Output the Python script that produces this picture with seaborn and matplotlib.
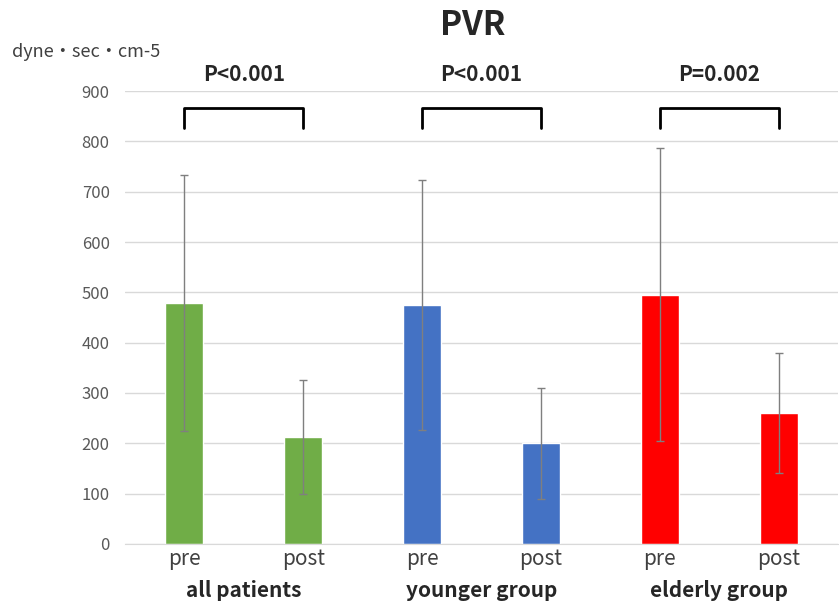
import matplotlib
matplotlib.use("Agg")
import matplotlib.pyplot as plt
import seaborn as sns
import pandas as pd

# values
groups = ["all patients", "younger group", "elderly group"]
phases = ["pre", "post"]
means = [479, 212, 475, 200, 495, 260]
sds = [255, 113, 249, 110, 291, 120]
p_labels = ["P<0.001", "P<0.001", "P=0.002"]
colors = ["#70AD47", "#4472C4", "#FF0000"]
yticks = [0, 100, 200, 300, 400, 500, 600, 700, 800, 900]

sns.set_style("white")
plt.rcParams['font.family'] = ['Noto Sans CJK JP', 'DejaVu Sans']

rows = []
for i, g in enumerate(groups):
    for j, ph in enumerate(phases):
        rows.append({"key": g + " " + ph, "group": g, "phase": ph,
                     "mean": means[i * 2 + j], "sd": sds[i * 2 + j]})
data = pd.DataFrame(rows)

fig = plt.figure(figsize=(8.39, 6.03), dpi=100)
ax = fig.add_axes([0.149, 0.098, 0.850, 0.751])

sns.barplot(data=data, x="key", y="mean", hue="group", palette=colors,
            dodge=False, width=0.32, legend=False, ax=ax, saturation=1)
ax.errorbar(range(len(data)), data["mean"], yerr=data["sd"], fmt="none",
            ecolor="#7f7f7f", elinewidth=1, capsize=3, capthick=1)

ax.set_xlim(-0.5, len(data) - 0.5)
ax.set_ylim(0, 900)
ax.set_yticks(yticks)
ax.yaxis.grid(True, color="#d9d9d9", linewidth=1)
ax.set_axisbelow(True)
for s in ["top", "right", "left"]:
    ax.spines[s].set_visible(False)
ax.spines["bottom"].set_color("#d9d9d9")
ax.tick_params(axis="y", length=0, labelsize=12, labelcolor="#595959", pad=11)
ax.tick_params(axis="x", length=0, labelsize=15, labelcolor="#404040", pad=3)
ax.set_xticks(range(len(data)))
ax.set_xticklabels(data["phase"])
ax.set_xlabel("")
ax.set_ylabel("")

# group names under the pre/post labels
for i, g in enumerate(groups):
    ax.text(i * 2 + 0.5, -0.102, g, transform=ax.get_xaxis_transform(),
            ha="center", va="center", fontsize=15, fontweight="bold")

# significance brackets
for i, p in enumerate(p_labels):
    x0, x1 = i * 2, i * 2 + 1
    ax.plot([x0, x0, x1, x1], [827, 867, 867, 827], color="black",
            linewidth=2, clip_on=False)
    ax.text(i * 2 + 0.5, 932, p, ha="center", va="center", fontsize=15,
            fontweight="bold")

fig.text(0.564, 0.958, "PVR", ha="center", va="center", fontsize=24,
         fontweight="bold")
fig.text(0.014, 0.914, "dyne・sec・cm-5", ha="left", va="center", fontsize=13,
         color="#404040")

fig.savefig("out.png", dpi=100)
